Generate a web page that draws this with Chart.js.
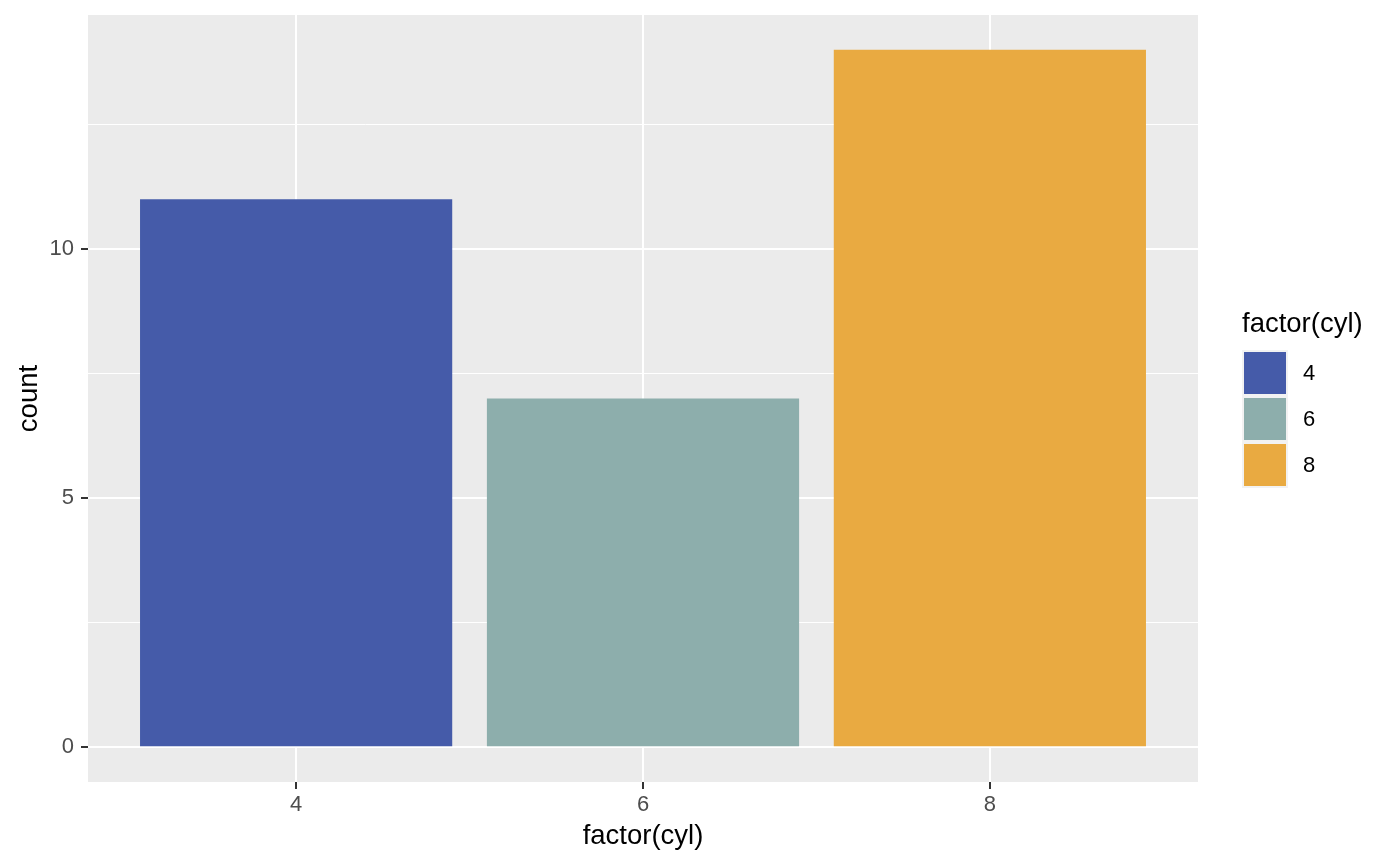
<!DOCTYPE html>
<html>
<head>
<meta charset="utf-8">
<script src="https://cdn.jsdelivr.net/npm/chart.js@4/dist/chart.umd.min.js"></script>
<style>
  html, body { margin: 0; padding: 0; background: #fff; }
  #wrap { position: relative; width: 1400px; height: 866px; }
  #legend { position: absolute; left: 1242px; top: 307px; font-family: "Liberation Sans", Arial, sans-serif; }
  #legend .title { font-size: 27.5px; line-height: 32px; color: #000; margin-bottom: 11px; }
  #legend .row { display: flex; align-items: center; height: 46px; }
  #legend .key { width: 46px; height: 46px; background: #F2F2F2; padding: 2px; box-sizing: border-box; margin-right: 15px; }
  #legend .key div { width: 100%; height: 100%; }
  #legend .lab { font-size: 22px; color: #000; }
</style>
</head>
<body>
<div id="wrap">
  <canvas id="chart" width="1400" height="866"></canvas>
  <div id="legend"></div>
</div>
<script>
const cylLevels = ["4", "6", "8"];
const counts = [11, 7, 14];
const fillColors = ["#455BA9", "#8DAEAC", "#E9AA41"];
const yMajorTicks = [0, 5, 10];
const yMinorTicks = [2.5, 7.5, 12.5];

const panelBg = {
  id: "panelBg",
  beforeDraw(chart) {
    const a = chart.chartArea;
    const ctx = chart.ctx;
    ctx.save();
    ctx.fillStyle = "#EBEBEB";
    ctx.fillRect(a.left, a.top, a.right - a.left, a.bottom - a.top);
    ctx.restore();
  },
};

const tickFont = { family: "Liberation Sans, Arial, sans-serif", size: 22 };
const titleFont = { family: "Liberation Sans, Arial, sans-serif", size: 27.5 };

new Chart(document.getElementById("chart"), {
  type: "bar",
  data: {
    datasets: [
      {
        data: counts.map((v, i) => ({ x: i + 1, y: v })),
        backgroundColor: fillColors,
        borderWidth: 0,
        barPercentage: 0.9,
        categoryPercentage: 1,
      },
    ],
  },
  plugins: [panelBg],
  options: {
    responsive: false,
    animation: false,
    layout: { padding: { top: 15, right: 202, left: 0, bottom: 0 } },
    plugins: { legend: { display: false }, tooltip: { enabled: false } },
    scales: {
      x: {
        type: "linear",
        offset: false,
        min: 0.4,
        max: 3.6,
        afterBuildTicks: (s) => { s.ticks = cylLevels.map((_, i) => ({ value: i + 1 })); },
        afterFit: (s) => { s.height = 84; },
        ticks: {
          callback: (v) => cylLevels[v - 1],
          color: "#4D4D4D",
          font: tickFont,
          padding: 3,
        },
        grid: { offset: false, color: "#FFFFFF", lineWidth: 2, tickColor: "#333333", tickLength: 7 },
        border: { display: false },
        title: { display: true, text: "factor(cyl)", color: "#000", font: titleFont, padding: { bottom: 13 } },
      },
      y: {
        min: -0.7,
        max: 14.7,
        afterBuildTicks: (s) => {
          s.ticks = [...yMajorTicks, ...yMinorTicks].sort((a, b) => a - b).map((v) => ({ value: v }));
        },
        afterFit: (s) => { s.width = 88; s.paddingTop = 0; s.paddingBottom = 0; },
        ticks: {
          callback: (v) => (yMajorTicks.includes(v) ? String(v) : ""),
          color: "#4D4D4D",
          font: tickFont,
          padding: 7,
        },
        grid: {
          color: "#FFFFFF",
          lineWidth: (c) => (yMajorTicks.includes(c.tick && c.tick.value) ? 2 : 1),
          tickColor: (c) => (yMajorTicks.includes(c.tick && c.tick.value) ? "#333333" : "rgba(0,0,0,0)"),
          tickLength: 7,
        },
        border: { display: false },
        title: { display: true, text: "count", color: "#000", font: titleFont, padding: { top: 13 } },
      },
    },
  },
});

const legend = document.getElementById("legend");
const t = document.createElement("div");
t.className = "title";
t.textContent = "factor(cyl)";
legend.appendChild(t);
cylLevels.forEach((lvl, i) => {
  const row = document.createElement("div");
  row.className = "row";
  const key = document.createElement("div");
  key.className = "key";
  const fill = document.createElement("div");
  fill.style.background = fillColors[i];
  key.appendChild(fill);
  const lab = document.createElement("span");
  lab.className = "lab";
  lab.textContent = lvl;
  row.appendChild(key);
  row.appendChild(lab);
  legend.appendChild(row);
});
</script>
</body>
</html>
